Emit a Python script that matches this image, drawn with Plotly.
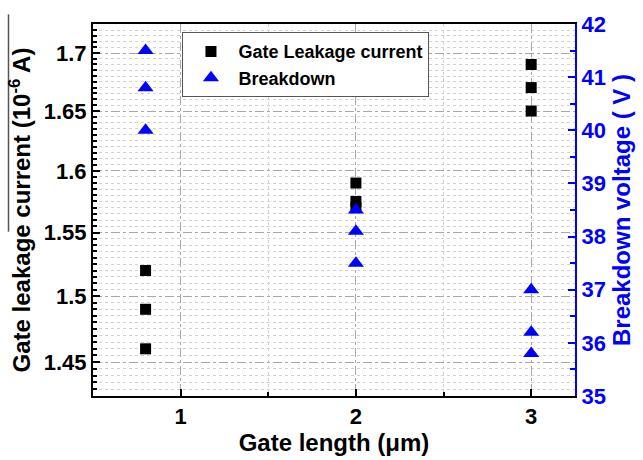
import plotly.graph_objects as go

# Data
gate_length_leak = [0.8, 0.8, 0.8, 2, 2, 2, 3, 3, 3]
leak_current = [1.52, 1.49, 1.46, 1.59, 1.575, 1.57, 1.69, 1.67, 1.65]
gate_length_bd = [0.8, 0.8, 0.8, 2, 2, 2, 3, 3, 3]
breakdown_v = [41.5, 40.8, 40.0, 38.5, 38.1, 37.5, 37.0, 36.2, 35.8]

FONT = "Liberation Sans, Arial, sans-serif"
BLUE = "#0000ff"

fig = go.Figure()
fig.add_trace(go.Scatter(
    x=gate_length_leak, y=leak_current, mode="markers", name="Gate Leakage current",
    marker=dict(symbol="square", size=11, color="black"), yaxis="y"))
fig.add_trace(go.Scatter(
    x=gate_length_bd, y=breakdown_v, mode="markers", name="Breakdown",
    marker=dict(symbol="triangle-up", size=14, color=BLUE), yaxis="y2"))

grid_major = dict(showgrid=True, gridcolor="#a8a8a8", griddash="dashdot", gridwidth=1)

fig.update_layout(
    width=643, height=460,
    margin=dict(l=93, r=65, t=15, b=60),
    paper_bgcolor="white", plot_bgcolor="white",
    font=dict(family=FONT, size=20, color="black"),
    showlegend=True,
    legend=dict(x=0.1856, y=0.978, xanchor="left", yanchor="top",
                bgcolor="white", bordercolor="#555555", borderwidth=1,
                font=dict(family=FONT, size=18, color="black", weight="bold"),
                itemwidth=45, tracegroupgap=0),
    xaxis=dict(
        range=[0.5, 3.25], tickmode="linear", tick0=1, dtick=1,
        ticks="inside", ticklen=7, tickwidth=2, tickcolor="black",
        showline=True, linecolor="black", linewidth=2, mirror=True,
        tickfont=dict(family=FONT, size=22, color="black", weight="bold"),
        title=dict(text="Gate length (\u03bcm)", standoff=2,
                   font=dict(family=FONT, size=24, color="black", weight="bold")),
        zeroline=False, **grid_major,
        minor=dict(dtick=0.5, tick0=1, ticks="inside", ticklen=4, tickwidth=2, tickcolor="black",
                   showgrid=True, gridcolor="#d2d2d2", griddash="dot", gridwidth=1),
    ),
    yaxis=dict(
        type="log", range=[0.15381, 0.23693], tick0=1.45, dtick="L0.05",
        ticks="inside", ticklen=7, tickwidth=2, tickcolor="black",
        showline=True, linecolor="black", linewidth=2,
        tickfont=dict(family=FONT, size=22, color="black", weight="bold"),
        title=dict(text="Gate leakage current (10<sup>-6</sup> A)", standoff=6,
                   font=dict(family=FONT, size=24, color="black", weight="bold")),
        zeroline=False, **grid_major,
        minor=dict(dtick="L0.005", tick0=1.45, ticks="inside", ticklen=4, tickwidth=2, tickcolor="black",
                   showgrid=True, gridcolor="#d2d2d2", griddash="dot", gridwidth=1),
    ),
    yaxis2=dict(
        overlaying="y", side="right", range=[35, 42], tickmode="linear", tick0=35, dtick=1,
        ticks="inside", ticklen=7, tickwidth=2, tickcolor=BLUE,
        showline=True, linecolor=BLUE, linewidth=2, showgrid=False, zeroline=False,
        tickfont=dict(family=FONT, size=22, color=BLUE, weight="bold"),
        title=dict(text="Breakdown voltage ( V )", standoff=8,
                   font=dict(family=FONT, size=24, color=BLUE, weight="bold")),
        minor=dict(dtick=0.5, tick0=35, ticks="inside", ticklen=5, tickwidth=2, tickcolor=BLUE),
    ),
)

# thin artifact line at top-left of the reference image
fig.add_shape(type="line", xref="paper", yref="paper",
              x0=-0.1753, x1=-0.1753, y0=0.4416, y1=1.026,
              line=dict(color="#555555", width=1.5))

fig.write_html("out.html")
